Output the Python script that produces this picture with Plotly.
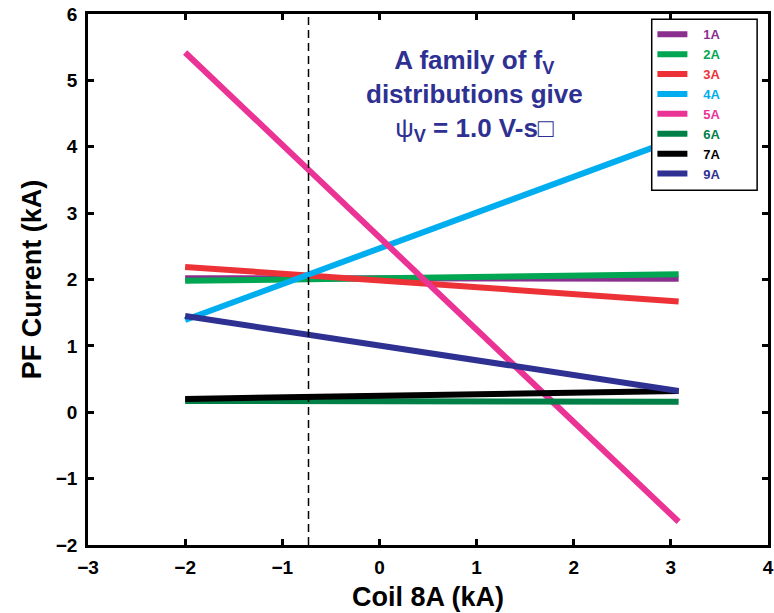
import plotly.graph_objects as go

# ---- data ----
coil_8a = [-2.0, 3.08]
series_names = ["1A", "2A", "3A", "4A", "5A", "6A", "7A", "9A"]
pf_1a = [2.02, 2.01]
pf_2a = [1.98, 2.08]
pf_3a = [2.19, 1.67]
pf_4a = [1.39, 4.13]
pf_5a = [5.42, -1.65]
pf_6a = [0.17, 0.16]
pf_7a = [0.20, 0.32]
pf_9a = [1.45, 0.32]
series_values = [pf_1a, pf_2a, pf_3a, pf_4a, pf_5a, pf_6a, pf_7a, pf_9a]
series_colors = ["#8B2F8F", "#00A651", "#ED3237", "#00AEEF",
                 "#EB3396", "#007F46", "#000000", "#2E3192"]
reference_coil_8a = -0.73

x_ticks = [-3, -2, -1, 0, 1, 2, 3, 4]
y_ticks = [-2, -1, 0, 1, 2, 3, 4, 5, 6]

SANS = "Liberation Sans, Arial, Helvetica, sans-serif"
PAD_L = "&nbsp;" * 3

fig = go.Figure()
for name, vals, col in zip(series_names, series_values, series_colors):
    fig.add_trace(go.Scatter(
        x=coil_8a, y=vals, mode="lines",
        line=dict(color=col, width=6),
        name=f"{PAD_L}<span style='color:{col}'>{name}</span>",
    ))

fig.add_shape(type="line", xref="x", yref="y",
              x0=reference_coil_8a, x1=reference_coil_8a, y0=-2, y1=5.97,
              line=dict(color="black", width=1.5, dash="8px,5px"))

# legend frame (wider than plotly's auto-sized legend box)
fig.add_shape(type="rect", xref="paper", yref="paper", layer="above",
              x0=0.829, x1=0.984, y0=0.668, y1=0.99,
              fillcolor="white", line=dict(color="black", width=1.5))

fig.add_annotation(
    xref="paper", yref="paper", x=0.569, y=0.846,
    xanchor="center", yanchor="middle", showarrow=False, align="center",
    text=("A family of f<sub>V</sub><br>distributions give<br>"
          "<span style='font-weight:normal'>ψ</span><sub>V</sub> = 1.0 V-s□"),
    font=dict(family=SANS, size=26, color="#2E3192", weight="bold"),
)

axis_common = dict(
    showgrid=False, zeroline=False, showline=True, linecolor="black", linewidth=2.5,
    mirror="ticks", ticks="inside", ticklen=6, tickwidth=2.5, tickcolor="black",
    tickfont=dict(family=SANS, size=19, color="black", weight="bold"),
    automargin=False,
)

fig.update_xaxes(range=[-3, 4], tickvals=x_ticks, ticklabelstandoff=3,
                 title=dict(text="Coil 8A (kA)", standoff=11,
                            font=dict(family=SANS, size=27, color="black", weight="bold")),
                 **axis_common)
fig.update_yaxes(range=[-2, 6], tickvals=y_ticks, ticklabelstandoff=4,
                 title=dict(text="PF Current (kA)", standoff=7,
                            font=dict(family=SANS, size=27, color="black", weight="bold")),
                 **axis_common)

fig.update_layout(
    width=774, height=613,
    margin=dict(l=88, r=6, t=14, b=68),
    paper_bgcolor="white", plot_bgcolor="white",
    showlegend=True,
    legend=dict(x=0.83, y=0.99, xanchor="left", yanchor="top",
                bgcolor="rgba(0,0,0,0)", borderwidth=0,
                font=dict(family=SANS, size=13, weight="bold"),
                itemwidth=30, tracegroupgap=0),
)

fig.write_html("out.html", config={"displayModeBar": False},
               post_script="document.body.style.margin='0';")
